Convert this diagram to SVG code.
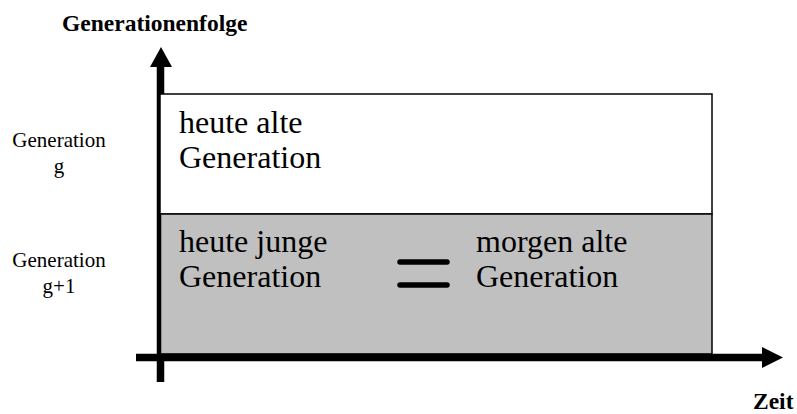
<svg xmlns="http://www.w3.org/2000/svg" width="797" height="414" viewBox="0 0 797 414">
<style>
.lbl{font-family:"Liberation Serif","Times New Roman",serif;fill:#000}
.main{font-size:32px}
.side{font-size:21px;text-anchor:middle}
.bold{font-size:23.5px;font-weight:bold}
.axis{stroke:#000;stroke-width:7.5;fill:none}
.eq{stroke:#000;stroke-width:5.5;stroke-linecap:round}
</style>
<rect width="797" height="414" fill="#fff"/>
<g id="connectors">
<line class="axis" x1="160.5" y1="382" x2="160.5" y2="64"/>
<polygon points="161,47 150,67 172,67" fill="#000"/>
</g>
<g id="old-generation">
<rect x="160" y="94" width="552" height="120" fill="#fff" stroke="#000" stroke-width="1.5"/>
<text class="lbl main" x="179" y="133">heute alte</text>
<text class="lbl main" x="179" y="168">Generation</text>
</g>
<g id="young-generation">
<rect x="160.5" y="214" width="551.5" height="140" fill="#c0c0c0" stroke="#000" stroke-width="1.5"/>
<text class="lbl main" x="179" y="252">heute junge</text>
<text class="lbl main" x="179" y="287">Generation</text>
<text class="lbl main" x="476" y="252">morgen alte</text>
<text class="lbl main" x="476" y="287">Generation</text>
</g>
<g id="equals">
<line class="eq" x1="400" y1="262" x2="447" y2="262"/>
<line class="eq" x1="400" y1="285" x2="447" y2="285"/>
</g>
<g id="time-axis">
<line class="axis" x1="136" y1="357.5" x2="766" y2="357.5"/>
<polygon points="783,357.5 762,347 762,368" fill="#000"/>
</g>
<g id="labels">
<text class="lbl bold" x="62" y="31">Generationenfolge</text>
<text class="lbl bold" x="753" y="409">Zeit</text>
<text class="lbl side" x="59" y="147">Generation</text>
<text class="lbl side" x="59" y="173">g</text>
<text class="lbl side" x="59" y="267">Generation</text>
<text class="lbl side" x="59" y="293">g+1</text>
</g>
</svg>
